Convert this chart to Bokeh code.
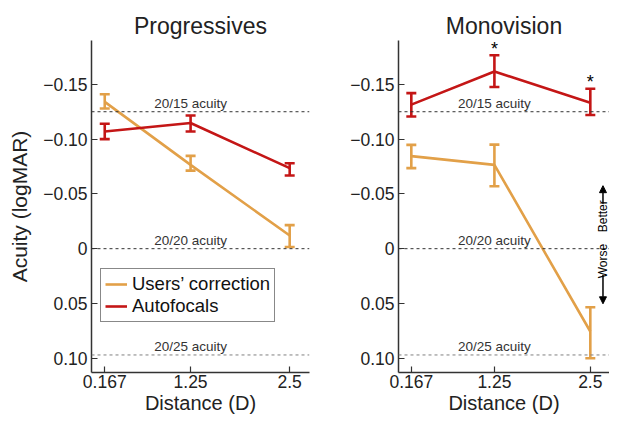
from math import pi
from bokeh.plotting import figure
from bokeh.layouts import row
from bokeh.models import (Range1d, FixedTicker, Span, Whisker, TeeHead, ColumnDataSource,
                          Label, Arrow, NormalHead)
from bokeh.core.properties import value
from bokeh.embed import file_html
from bokeh.resources import INLINE

# ---------------- data ----------------
distance = [0.167, 1.25, 2.5]
distance_labels = ["0.167", "1.25", "2.5"]

prog_users = [-0.134, -0.0765, -0.012]
prog_users_lo = [-0.141, -0.0847, -0.0215]
prog_users_hi = [-0.128, -0.0712, -0.0016]
prog_auto = [-0.107, -0.1147, -0.0735]
prog_auto_lo = [-0.114, -0.1215, -0.078]
prog_auto_hi = [-0.100, -0.107, -0.0668]

mono_users = [-0.0845, -0.0765, 0.0756]
mono_users_lo = [-0.0947, -0.095, 0.0535]
mono_users_hi = [-0.0735, -0.057, 0.100]
mono_auto = [-0.1315, -0.1617, -0.1332]
mono_auto_lo = [-0.142, -0.1765, -0.146]
mono_auto_hi = [-0.1206, -0.1476, -0.122]

mono_star_x = [1.25, 2.5]
mono_star_y = [-0.1826, -0.1518]

acuity_levels = [-0.125, 0.0, 0.097]
acuity_labels = ["20/15 acuity", "20/20 acuity", "20/25 acuity"]
acuity_colors = ["#333333", "#333333", "#808080"]

y_ticks = [-0.15, -0.10, -0.05, 0.0, 0.05, 0.10]
y_tick_labels = ["\u22120.15", "\u22120.10", "\u22120.05", "0", "0.05", "0.10"]

series_names = ["Users\u2019 correction", "Autofocals"]
ORANGE = "#E2A048"
RED = "#C41616"
FONT = "Liberation Sans"
TXT = "#222222"


def make_panel(title, users, users_lo, users_hi, auto, auto_lo, auto_hi,
               width, bl, br, ylabel):
    p = figure(width=width, height=418, output_backend="svg", toolbar_location=None,
               x_range=Range1d(0.0, 2.75), y_range=Range1d(0.113, -0.19),
               min_border_left=bl, min_border_right=br, min_border_top=40,
               min_border_bottom=46, title=title)
    p.title.align = "center"
    p.title.text_font = FONT
    p.title.text_font_size = "23px"
    p.title.text_font_style = "normal"
    p.title.text_color = TXT
    p.title.standoff = 4
    p.outline_line_color = None
    p.grid.visible = False
    p.background_fill_color = "white"
    p.border_fill_color = "white"

    for ax in (p.xaxis[0], p.yaxis[0]):
        ax.major_tick_in = 6
        ax.major_tick_out = 0
        ax.minor_tick_line_color = None
        ax.axis_line_width = 1.5
        ax.axis_line_color = "#333333"
        ax.major_tick_line_color = "#333333"
        ax.major_tick_line_width = 1.2
        ax.major_label_text_font = FONT
        ax.major_label_text_font_size = "17.5px"
        ax.major_label_text_color = TXT
        ax.axis_label_text_font = FONT
        ax.axis_label_text_font_style = "normal"
        ax.axis_label_text_color = TXT

    p.xaxis.ticker = FixedTicker(ticks=distance)
    p.xaxis.major_label_overrides = {t: l for t, l in zip(distance, distance_labels)}
    p.xaxis.axis_label = "Distance (D)"
    p.xaxis.axis_label_text_font_size = "20px"
    p.xaxis.major_label_standoff = 2
    p.xaxis.axis_label_standoff = 1

    p.yaxis.ticker = FixedTicker(ticks=y_ticks)
    p.yaxis.major_label_overrides = {t: l for t, l in zip(y_ticks, y_tick_labels)}
    p.yaxis.major_label_standoff = 4
    if ylabel:
        p.yaxis.axis_label = ylabel
        p.yaxis.axis_label_text_font_size = "21px"
        p.yaxis.axis_label_standoff = 9

    # acuity reference lines
    for lev, lab, col in zip(acuity_levels, acuity_labels, acuity_colors):
        p.add_layout(Span(location=lev, dimension="width", line_color=col,
                          line_dash="3 3", line_width=1))
    p.text(x=[1.25] * 3, y=acuity_levels, text=acuity_labels, text_align="center",
           text_baseline="bottom", y_offset=-1, text_font=value(FONT),
           text_font_size="13.5px", text_color="#333333")

    for vals, lo, hi, col, name in ((users, users_lo, users_hi, ORANGE, series_names[0]),
                                    (auto, auto_lo, auto_hi, RED, series_names[1])):
        p.line(distance, vals, line_color=col, line_width=2.6, legend_label=name)
        src = ColumnDataSource(dict(x=distance, lo=lo, hi=hi))
        p.add_layout(Whisker(source=src, base="x", lower="lo", upper="hi",
                             dimension="height", line_color=col, line_width=2.6,
                             upper_head=TeeHead(size=10, line_color=col, line_width=2.6),
                             lower_head=TeeHead(size=10, line_color=col, line_width=2.6)))
    return p


p1 = make_panel("Progressives", prog_users, prog_users_lo, prog_users_hi,
                prog_auto, prog_auto_lo, prog_auto_hi, 319, 91, 10, "Acuity (logMAR)")
p2 = make_panel("Monovision", mono_users, mono_users_lo, mono_users_hi,
                mono_auto, mono_auto_lo, mono_auto_hi, 290, 79, 0, None)

# legend in left panel
lg = p1.legend[0]
lg.location = (9, 50)
lg.label_text_font = FONT
lg.label_text_font_size = "18.5px"
lg.label_text_color = "#111111"
lg.border_line_color = "#111111"
lg.border_line_width = 1.2
lg.background_fill_alpha = 1.0
lg.glyph_width = 22
lg.glyph_height = 20
lg.label_height = 20
lg.label_standoff = 5
lg.spacing = 0
lg.padding = 4
lg.margin = 0
p2.legend.visible = False

# significance stars
p2.text(x=mono_star_x, y=mono_star_y, text=["*", "*"], text_align="center",
        text_baseline="middle", text_font=value(FONT), text_font_size="18px",
        text_color="black")

# Better / Worse indicator
XBW = 2.665
p2.add_layout(Label(x=XBW, y=-0.015, text="Better", angle=pi / 2, text_align="left",
                    text_baseline="middle", text_font=FONT, text_font_size="12px",
                    text_color="black"))
p2.add_layout(Label(x=XBW, y=-0.0044, text="Worse", angle=pi / 2, text_align="right",
                    text_baseline="middle", text_font=FONT, text_font_size="12px",
                    text_color="black"))
p2.add_layout(Arrow(x_start=XBW, y_start=-0.041, x_end=XBW, y_end=-0.0575,
                    line_width=1.5, line_color="black",
                    end=NormalHead(size=7, fill_color="black", line_color="black")))
p2.add_layout(Arrow(x_start=XBW, y_start=0.0238, x_end=XBW, y_end=0.0503,
                    line_width=1.5, line_color="black",
                    end=NormalHead(size=7, fill_color="black", line_color="black")))

layout = row(p1, p2)
open("out.html", "w").write(file_html(layout, INLINE))
